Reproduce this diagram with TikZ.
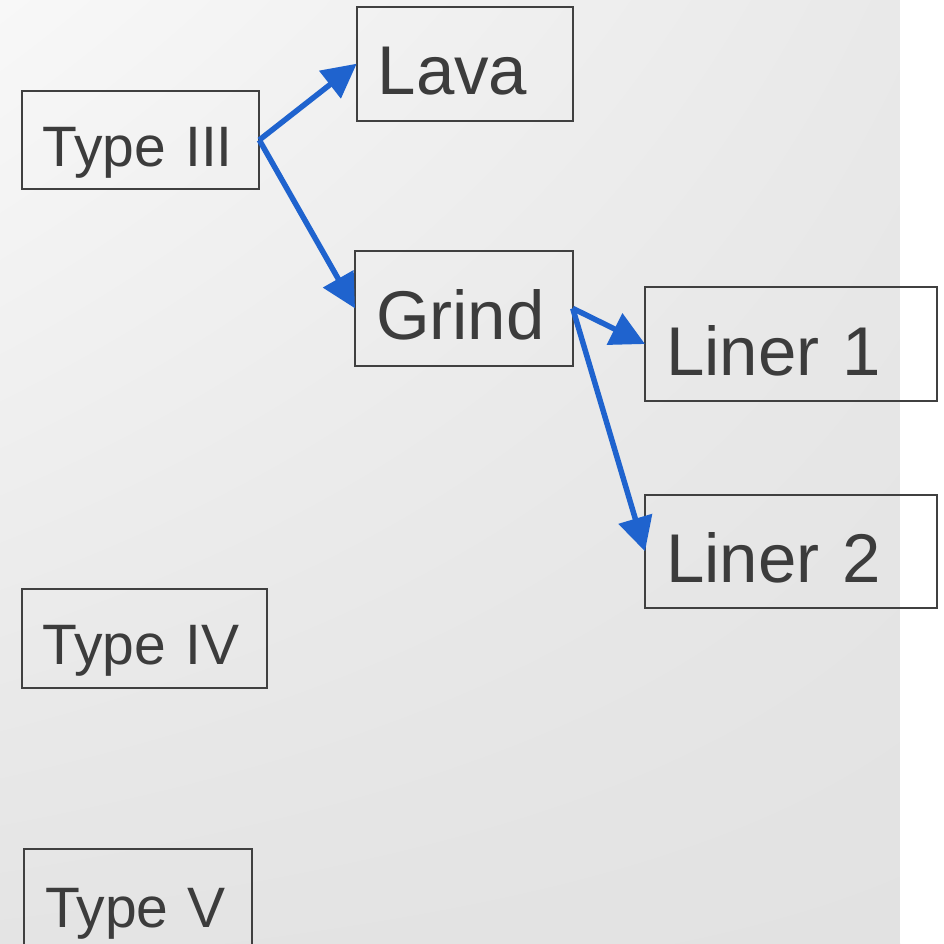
\documentclass[tikz,border=0pt]{standalone}
\usepackage{fontspec}
\setmainfont{Liberation Sans}
\usetikzlibrary{arrows.meta,shadings}
\definecolor{boxc}{HTML}{404040}
\definecolor{txtc}{HTML}{3C3C3C}
\definecolor{arrc}{HTML}{1F63CE}
\definecolor{bgul}{HTML}{F8F8F8}
\definecolor{bgur}{HTML}{E9E9E9}
\definecolor{bgll}{HTML}{E4E4E4}
\definecolor{bglr}{HTML}{E2E2E2}
\begin{document}
\begin{tikzpicture}[x=1pt,y=-1pt,
  box/.style={draw=boxc, line width=2pt, outer sep=0pt, inner xsep=21pt, inner ysep=0pt,
    align=left, text=txtc, anchor=north west},
  big/.style={font=\fontsize{69}{69}\selectfont, text height=62pt, text depth=0pt},
  small/.style={font=\fontsize{57}{57}\selectfont, text height=52pt, text depth=0pt},
  arr/.style={draw=arrc, line width=5.5pt, -{Triangle[length=34pt,width=34pt]}}]
\useasboundingbox (0,0) rectangle (944,943);
\shade[upper left=bgul, upper right=bgur, lower left=bgll, lower right=bglr] (0,0) rectangle (900,943);
\fill[white] (900,0) rectangle (944,943);

\node[box,small,text width=195.6pt,minimum height=98.6pt] (t3) at (21.7,90.7) {\mbox{Type III}};
\node[box,big,text width=174pt,minimum height=114pt] (lava) at (356.7,6.7) {\mbox{Lava}};
\node[box,big,text width=175.7pt,minimum height=114.7pt] (grind) at (355,251) {\mbox{Grind}};
\node[box,big,text width=249.7pt,minimum height=113.4pt] (liner1) at (645,287.3) {\mbox{Liner 1}};
\node[box,big,text width=249.7pt,minimum height=113.3pt] (liner2) at (645,494.7) {\mbox{Liner 2}};
\node[box,small,text width=203pt,minimum height=99.3pt] (t4) at (21.7,588.7) {\mbox{Type IV}};
\node[box,small,text width=186pt,minimum height=99pt,text height=57pt] (t5) at (24,849) {\mbox{Type V}};

\draw[arr] (t3.east) -- (lava.west);
\draw[arr] (t3.east) -- (grind.west);
\draw[arr] (grind.east) -- (liner1.west);
\draw[arr] (grind.east) -- (liner2.west);
\end{tikzpicture}
\end{document}
